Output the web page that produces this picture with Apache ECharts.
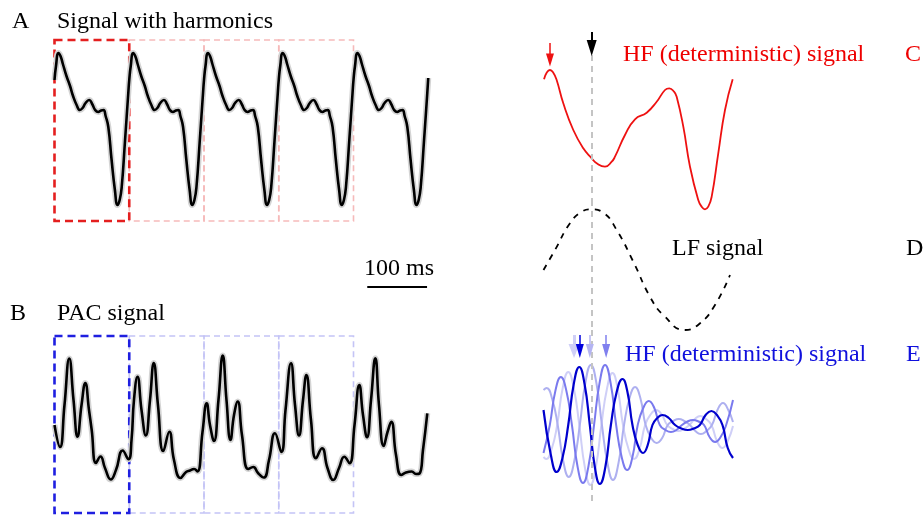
<!DOCTYPE html>
<html><head><meta charset="utf-8">
<script src="https://cdn.jsdelivr.net/npm/echarts@6/dist/echarts.min.js"></script>
<style>html,body{margin:0;padding:0;background:#fff}#c{width:923px;height:516px}</style>
</head><body><div id="c"></div>
<script>
// ---- Panel A: signal with harmonics (time in ms, amplitude in a.u.)
const tA = [0,2.5,6.5,10,14,20,26,31,37,42.5,47,52,58,63,68,73,78,82,85.5,90,95.5,101,105.4,109,112.4,118,123.4,
125,127.5,131.5,135,139,145,151,156,162,167.5,172,177,183,188,193,198,203,207,210.5,215,220.5,226,230.4,234,237.4,243,248.4,
250,252.5,256.5,260,264,270,276,281,287,292.5,297,302,308,313,318,323,328,332,335.5,340,345.5,351,355.4,359,362.4,368,373.4,
375,377.5,381.5,385,389,395,401,406,412,417.5,422,427,433,438,443,448,453,457,460.5,465,470.5,476,480.4,484,487.4,493,498.4,
500,502.5,506.5,510,514,520,526,531,537,542.5,547,552,558,563,568,573,578,582,585.5,590,595.5,601,605.4,609,612.4,618,623.4,625];
const vA = [50,64,77,74,66,54,44,34,25,20,22,27,30,26,20,18,19.5,20,14,3,-30,-60,-75,-70,-57,-10,37,
50,64,77,74,66,54,44,34,25,20,22,27,30,26,20,18,19.5,20,14,3,-30,-60,-75,-70,-57,-10,37,
50,64,77,74,66,54,44,34,25,20,22,27,30,26,20,18,19.5,20,14,3,-30,-60,-75,-70,-57,-10,37,
50,64,77,74,66,54,44,34,25,20,22,27,30,26,20,18,19.5,20,14,3,-30,-60,-75,-70,-57,-10,37,
50,64,77,74,66,54,44,34,25,20,22,27,30,26,20,18,19.5,20,14,3,-30,-60,-75,-70,-57,-10,37,52];

// ---- Panel B: PAC signal
const tB = [0,9.2,16.7,24.7,31.8,38.5,45.2,51.5,57.7,62.2,69.4,76.9,84.4,94.1,102.8,114,123.7,128.8,132.9,138.8,
145.5,152.7,159.7,166,173,182,192,199.8,210.7,220,226.6,233.3,239.1,247.5,254.5,260,266.7,274.2,281.3,287.6,
294.3,300.2,306.4,313.5,324.1,332.4,340.3,350,358.7,368.7,379.3,386.3,395.5,402.2,408.9,415.6,421.2,428.9,437.3,447.3,
456.5,466.2,475.8,484.6,493.3,501.7,509.7,515.9,522.6,529.3,536.5,542.6,550.5,556.9,563.2,571.1,579.9,587.8,597.3,604.5,610.4,616.2,623.4];
const vB = [-5,-27,15,61.5,20,-16.7,15,37,10,-10,-43,-36.5,-48,-59.5,-50,-30.5,-39.3,-20,20,43.3,
10,-15.5,20,57,15,-31,-11.7,-40,-58,-52,-50.5,-49,-51.5,-12,16.7,-5,-21,20,64.5,20,
-20,5,18.5,-15,-49,-47,-53,-57.5,-40,-13.3,-32,10,56.7,15,-15.5,20,45,0,-38.3,-28.3,
-48,-60,-48,-36.7,-43.3,-5,35,5,-17.3,20,61.7,15,-26,-12,-1.7,-35,-55,-52.5,-51.5,-54,-53.5,-30,6.7];

// analysis windows (ms) and scale bar
const windowStarts = [0,125,250,375];
const windowLen = 125;
const scaleBar = [523, 623];
const scaleBarLabel = '100 ms';

// ---- Right column (x = LF phase in degrees)
const phaseC = [1,6,12.3,18.6,25,37.6,56.6,75.6,91.6,101,116.8,129.6,135.8,154.8,173.8,196,215,230.8,239,248,253,265.6,278.3,294,300.5,306.8,313,319.5,332,344.8,359.4];
const vC = [60.7,67.3,70,67.3,60,36.7,10,-8.3,-18.3,-23.3,-26.7,-21.7,-16.7,5,20.7,27.3,38.3,50,51.7,48.3,43.3,13.3,-26.7,-60,-66.7,-69.3,-66.7,-56.7,-13.3,30,60.7];

const phaseD = [0,21.8,50.3,72.6,90.2,113.6,139,170.6,202.3,227.6,268.8,297.3,325.8,354.3];
const vD = [0,20,46.7,58.3,60.7,57.3,40,8.3,-26.7,-45,-60,-53.3,-35,-5];

const phaseE1 = [0,5,15.5,26,36.5,47,57.5,68,78.5,89,99.5,110,120.5,131,141,151,161.5,172,182.5,193,203.5,214,224.5,235,245.5,256,266.5,277,287.5,298,308.5,319,329.5,340,350,360];
const vE1 = [-32,-34,-24,0,37,53,37,0,-42,-60,-42,0,36,52,36,0,-24,-34,-24,0,10.5,15,10.5,0,-4,-6,-4,0,6,9,6,0,-16,-23,-16,-1];
const phaseE2 = [0,6,16.5,27,37.5,48,58.5,69,79.5,90,100.5,111,121.5,132,142.5,153,163.5,174,184,194,204.5,215,225.5,236,246.5,257,267.5,278,288.5,299,309.5,320,330.5,341,351,360];
const vE2 = [35,37,26,0,-36,-52,-36,0,42,60,42,0,-38,-55,-38,0,27,38,27,0,-13,-18,-13,0,4,6,4,0,-6,-9,-6,0,15,22,15,3];
const phaseE3 = [0,12,22.5,33,43.5,54,64.5,75,85.5,96,106.5,117,127.5,138,148.5,159,169,179,189.5,200,210.5,221,231.5,242,252.5,263,273.5,284,294.5,305,315.5,326,336.5,347,360];
const vE3 = [-28,0,34,48,34,0,-41,-58,-41,0,42,60,42,0,-32,-45,-32,0,17,24,17,0,-5,-7,-5,0,3.5,5,3.5,0,-12,-17,-12,0,25];
const phaseE4 = [0,14,25,36,47,57.5,68,78,88,97.5,107,117.5,128,139,150,159.5,169,179,189,198,207,216.5,226,238,250,262,274,285.5,297,308,319,329.5,340,350,360];
const vE4 = [15,-30,-47,-33,0,41,58,41,0,-42,-59,-42,0,33,46,33,0,-20,-28,-20,0,7,10,7,0,-3.5,-5,-3.5,0,10,14,10,0,-23,-33];

const lfPeakPhase = 91.5;
const arrowPhaseC = 12.3;
const arrowPhasesE = [58, 69, 88, 119];

const zip = (xs, ys) => xs.map((x, i) => [x, ys[i]]);
const FONT = '"Liberation Serif","Times New Roman",serif';

const chart = echarts.init(document.getElementById('c'), null, {renderer: 'canvas'});

const grids = [
  {left: 54.5, top: 35, width: 373.75, height: 255},
  {left: 54.5, top: 330, width: 373.75, height: 185},
  {left: 543.5, top: 30, width: 189.5, height: 190},
  {left: 543.5, top: 200, width: 189.5, height: 140},
  {left: 543.5, top: 330, width: 189.5, height: 175}
];
const xAxes = [
  {type: 'value', gridIndex: 0, min: 0, max: 625, show: false},
  {type: 'value', gridIndex: 1, min: 0, max: 625, show: false},
  {type: 'value', gridIndex: 2, min: 0, max: 360, show: false},
  {type: 'value', gridIndex: 3, min: 0, max: 360, show: false},
  {type: 'value', gridIndex: 4, min: 0, max: 360, show: false}
];
const yAxes = [
  {type: 'value', gridIndex: 0, min: -160, max: 95, show: false},
  {type: 'value', gridIndex: 1, min: -95, max: 90, show: false},
  {type: 'value', gridIndex: 2, min: -80, max: 110, show: false},
  {type: 'value', gridIndex: 3, min: -70, max: 70, show: false},
  {type: 'value', gridIndex: 4, min: -80, max: 95, show: false}
];

function boxes(top, bottom, strong, light) {
  const out = [];
  windowStarts.forEach((s, i) => {
    if (i === 0) return;
    out.push([{coord: [s, top], itemStyle: {color: 'rgba(0,0,0,0)', borderColor: light, borderWidth: 1.6, borderType: [6, 4]}},
              {coord: [s + windowLen, bottom]}]);
  });
  out.push([{coord: [windowStarts[0], top], itemStyle: {color: 'rgba(0,0,0,0)', borderColor: strong, borderWidth: 2.6, borderType: [8, 5]}},
            {coord: [windowStarts[0] + windowLen, bottom]}]);
  return out;
}

function grayLine(y1, y2) {
  return [{coord: [lfPeakPhase, y1], symbol: 'none', lineStyle: {color: '#c4c4c4', width: 2, type: [6, 5]}},
          {coord: [lfPeakPhase, y2], symbol: 'none'}];
}
function arrow(x, y1, y2, color, size, w) {
  return [{coord: [x, y1], symbol: 'none', lineStyle: {color: color, width: w || 1.5, type: 'solid'}},
          {coord: [x, y2], symbol: 'triangle', symbolSize: size}];
}

const line = (xi, data, color, width, extra) => Object.assign({
  type: 'line', xAxisIndex: xi, yAxisIndex: xi, data: data, smooth: 0.5, symbol: 'none',
  silent: true, animation: false, lineStyle: {color: color, width: width}
}, extra || {});

const series = [
  // Panel A
  line(0, zip(tA, vA), '#d4d4d4', 6, {lineStyle: {color: '#d4d4d4', width: 6}}),
  line(0, zip(tA, vA), '#000', 2.6, {
    markArea: {silent: true, data: boxes(90, -91, '#e41f1f', '#f6baba')}
  }),
  line(0, [[scaleBar[0], -157], [scaleBar[1], -157]], '#000', 2, {smooth: false}),
  // Panel B
  line(1, zip(tB, vB), '#d4d4d4', 6, {lineStyle: {color: '#d4d4d4', width: 6}}),
  line(1, zip(tB, vB), '#000', 2.6, {
    markArea: {silent: true, data: boxes(84, -93, '#1f1fe0', '#c4c4f6')}
  }),
  // Panel C
  line(2, zip(phaseC, vC), '#ee1111', 1.8, {
    markLine: {silent: true, animation: false, label: {show: false}, symbol: ['none', 'triangle'],
      data: [grayLine(85, -60), arrow(arrowPhaseC, 97, 80, '#ee1111', [8, 13]), arrow(lfPeakPhase, 108, 92, '#000', [10, 16], 2)]}
  }),
  // Panel D
  line(3, zip(phaseD, vD), '#000', 1.8, {lineStyle: {color: '#000', width: 1.8, type: [6, 6]},
    markLine: {silent: true, animation: false, label: {show: false}, symbol: ['none', 'none'], data: [grayLine(70, -60)]}}),
  // Panel E
  line(4, zip(phaseE1, vE1), '#cfcff7', 2),
  line(4, zip(phaseE2, vE2), '#aeb0f0', 2),
  line(4, zip(phaseE3, vE3), '#7a7aee', 2),
  line(4, zip(phaseE4, vE4), '#0000cd', 2.2, {
    markLine: {silent: true, animation: false, label: {show: false}, symbol: ['none', 'triangle'],
      data: [grayLine(95, -78),
        arrow(arrowPhasesE[0], 90, 74, '#cfcff7', [11, 14], 3),
        arrow(arrowPhasesE[1], 90, 74, '#0000dd', [8, 14]),
        arrow(arrowPhasesE[2], 90, 74, '#b4b4f2', [8, 14]),
        arrow(arrowPhasesE[3], 90, 74, '#8080ee', [8, 14])]}
  })
];

function txt(s, x, y, color, align) {
  return {type: 'text', x: x, y: y, silent: true,
    style: {text: s, font: '24px ' + FONT, fill: color, align: align || 'left', verticalAlign: 'middle',
            textAlign: align || 'left', textVerticalAlign: 'middle'}};
}

chart.setOption({
  animation: false,
  backgroundColor: '#fff',
  grid: grids, xAxis: xAxes, yAxis: yAxes, series: series,
  graphic: [
    txt('A', 12, 22, '#000'), txt('Signal with harmonics', 57, 22, '#000'),
    txt('B', 10, 314, '#000'), txt('PAC signal', 57, 314, '#000'),
    txt(scaleBarLabel, 399, 269, '#000', 'center'),
    txt('HF (deterministic) signal', 623, 55, '#ee0000'), txt('C', 905, 55, '#ee0000'),
    txt('LF signal', 672, 249, '#000'), txt('D', 906, 249, '#000'),
    txt('HF (deterministic) signal', 625, 355, '#1010dd'), txt('E', 906, 355, '#1010dd')
  ]
});
</script></body></html>
